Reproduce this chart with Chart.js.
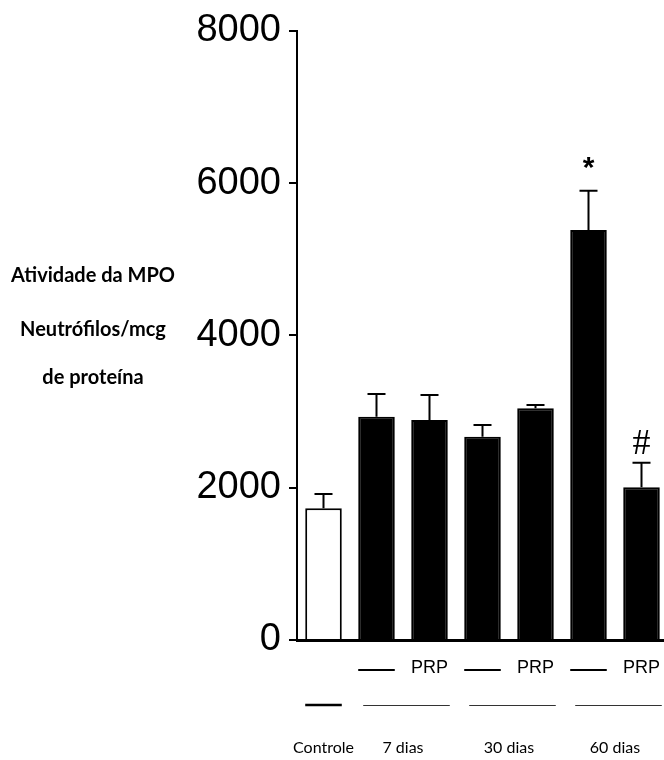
<!DOCTYPE html>
<html>
<head>
<meta charset="utf-8">
<script src="https://cdn.jsdelivr.net/npm/chart.js@4/dist/chart.umd.min.js"></script>
<style>
  html, body { margin: 0; padding: 0; background: #fff; overflow: hidden; }
  canvas { display: block; }
</style>
</head>
<body>
<canvas id="mpo" width="668" height="760"></canvas>
<script>
// Group names (bottom row) and which group each bar belongs to
const groups = ['Controle', '7 dias', '30 dias', '60 dias'];
const groupOf = [0, 1, 1, 2, 2, 3, 3];
// Treatment row under each bar: '—' = no treatment, 'PRP' = treated
const treatments = ['', '—', 'PRP', '—', 'PRP', '—', 'PRP'];
// MPO activity (mean) and upper error (SEM)
const mpoMeans = [1730, 2933, 2889, 2670, 3043, 5385, 2005];
const mpoErrors = [188, 298, 328, 154, 43, 516, 324];
// Significance markers over bars
const markers = ['', '', '', '', '', '*', '#'];
const yTicks = [0, 2000, 4000, 6000, 8000];
const titleLines = ['Atividade da MPO', 'Neutrófilos/mcg', 'de proteína'];

const categories = treatments.map((t, i) => (groups[groupOf[i]] + ' ' + t).trim());

const annotate = {
  id: 'annotate',
  afterDatasetsDraw(chart) {
    const ctx = chart.ctx;
    const y = chart.scales.y;
    const meta = chart.getDatasetMeta(0);
    ctx.save();
    ctx.strokeStyle = '#000';
    ctx.lineWidth = 2;
    meta.data.forEach((bar, i) => {
      const top = y.getPixelForValue(mpoMeans[i] + mpoErrors[i]);
      ctx.beginPath();
      ctx.moveTo(bar.x, bar.y);
      ctx.lineTo(bar.x, top);
      ctx.moveTo(bar.x - 9, top);
      ctx.lineTo(bar.x + 9, top);
      ctx.stroke();
      if (markers[i]) {
        ctx.fillStyle = '#000';
        ctx.textAlign = 'center';
        ctx.textBaseline = 'alphabetic';
        if (markers[i] === '*') {
          ctx.font = 'bold 30px "Liberation Sans"';
          ctx.fillText(markers[i], bar.x, top - 14);
        } else {
          ctx.font = '36px "Liberation Serif"';
          ctx.fillText(markers[i], bar.x, top - 9);
        }
      }
    });
    ctx.restore();
  },
  afterDraw(chart) {
    const ctx = chart.ctx;
    const area = chart.chartArea;
    const meta = chart.getDatasetMeta(0);
    const bottom = area.bottom;
    ctx.save();
    ctx.fillStyle = '#000';
    ctx.strokeStyle = '#000';

    // Row 1: treatment (— / PRP)
    meta.data.forEach((bar, i) => {
      const t = treatments[i];
      if (t === '—') {
        ctx.lineWidth = 2;
        ctx.beginPath();
        ctx.moveTo(bar.x - bar.width / 2, bottom + 30);
        ctx.lineTo(bar.x + bar.width / 2, bottom + 30);
        ctx.stroke();
      } else if (t) {
        ctx.font = '18px "Liberation Sans"';
        ctx.textAlign = 'center';
        ctx.textBaseline = 'middle';
        ctx.fillText(t, bar.x, bottom + 28);
      }
    });

    // Row 2: group underline, Row 3: group names
    groups.forEach((g, gi) => {
      const bars = meta.data.filter((_, i) => groupOf[i] === gi);
      const first = bars[0], last = bars[bars.length - 1];
      ctx.beginPath();
      if (bars.length === 1) {
        ctx.lineWidth = 2.5;
        ctx.strokeStyle = '#000';
        ctx.moveTo(first.x - first.width / 2, bottom + 65);
        ctx.lineTo(first.x + first.width / 2, bottom + 65);
      } else {
        ctx.lineWidth = 1;
        ctx.strokeStyle = '#333';
        ctx.moveTo(first.x - first.width / 2 + 5, bottom + 65.5);
        ctx.lineTo(last.x + last.width / 2 + 2, bottom + 65.5);
      }
      ctx.stroke();
      const cx = bars.reduce((s, b) => s + b.x, 0) / bars.length;
      ctx.font = '16px Lato';
      ctx.fillStyle = '#000';
      ctx.textAlign = 'center';
      ctx.textBaseline = 'middle';
      ctx.fillText(g, cx, bottom + 108);
    });

    // Y-axis title, three horizontal lines
    ctx.font = 'bold 20px Lato';
    ctx.fillStyle = '#000';
    ctx.textAlign = 'center';
    ctx.textBaseline = 'middle';
    const titleY = [276, 330, 378];
    titleLines.forEach((line, k) => ctx.fillText(line, 93, titleY[k]));
    ctx.restore();
  }
};

new Chart(document.getElementById('mpo'), {
  type: 'bar',
  data: {
    labels: categories,
    datasets: [{
      data: mpoMeans,
      backgroundColor: mpoMeans.map((_, i) => i === 0 ? '#fff' : '#000'),
      borderColor: '#000',
      borderWidth: 2,
      barPercentage: 0.69,
      categoryPercentage: 1
    }]
  },
  options: {
    responsive: false,
    animation: false,
    layout: { padding: { top: 30, left: 0, right: 0, bottom: 0 } },
    plugins: { legend: { display: false }, tooltip: { enabled: false } },
    scales: {
      x: {
        ticks: { display: false },
        grid: { display: false, drawTicks: false },
        border: { display: true, color: '#000', width: 3 },
        afterFit: s => { s.height = 120; }
      },
      y: {
        min: 0,
        max: 8000,
        afterBuildTicks: s => { s.ticks = yTicks.map(v => ({ value: v })); },
        ticks: {
          color: '#000',
          padding: 8,
          font: { family: 'Liberation Sans', size: 38 },
          callback: v => String(v)
        },
        grid: { display: true, drawOnChartArea: false, drawTicks: true, tickLength: 8, color: '#000', lineWidth: 2 },
        border: { display: true, color: '#000', width: 2 },
        afterFit: s => { s.width = 297; }
      }
    }
  },
  plugins: [annotate]
});
</script>
</body>
</html>
